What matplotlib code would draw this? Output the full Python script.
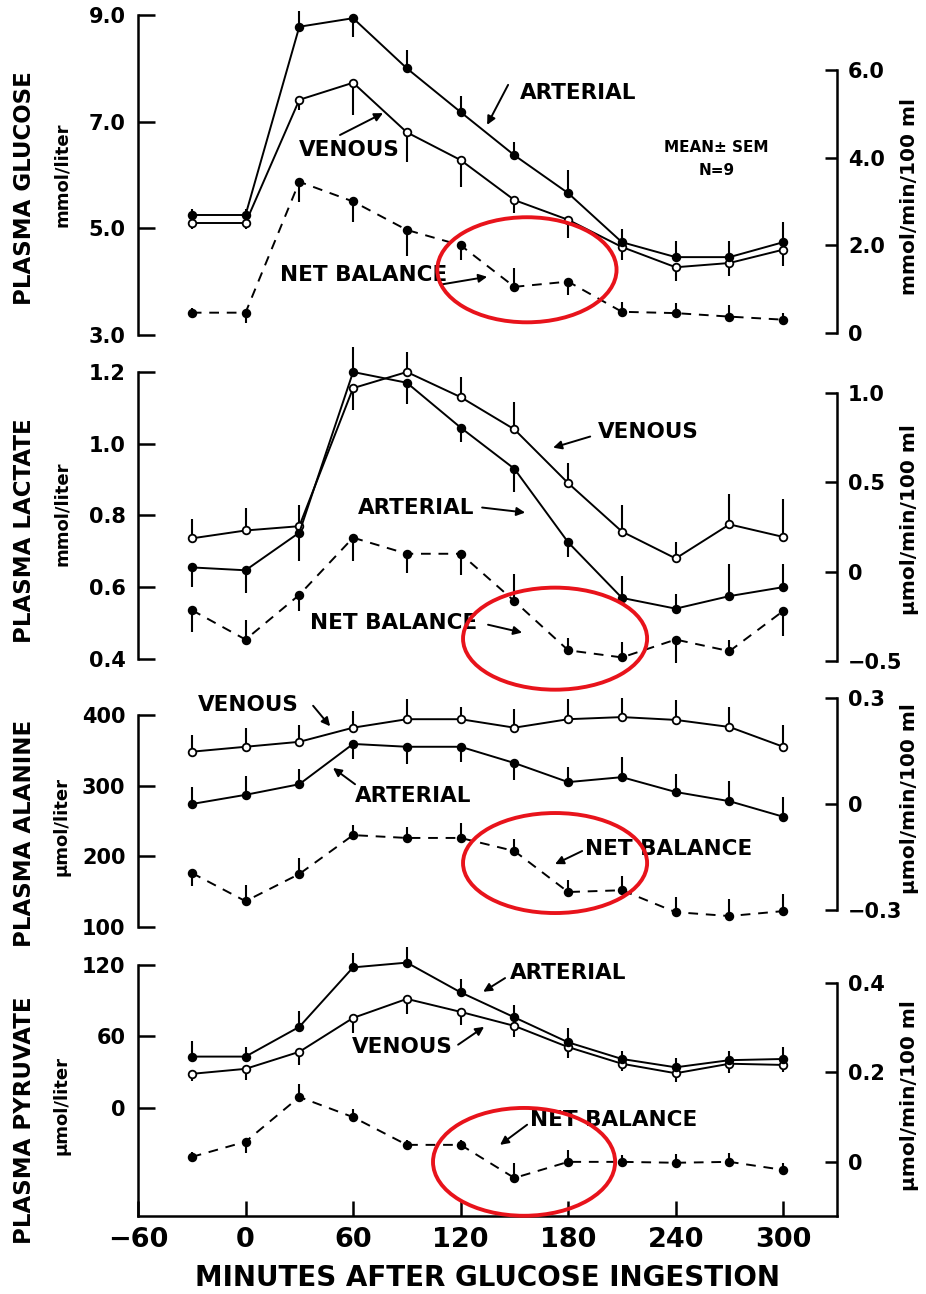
import matplotlib
matplotlib.use("Agg")
import matplotlib.pyplot as plt
from matplotlib.patches import Ellipse

plt.rcParams["font.family"] = ["DejaVu Sans"]
plt.rcParams["font.weight"] = "bold"

minutes = [-30, 0, 30, 60, 90, 120, 150, 180, 210, 240, 270, 300]

# glucose: mmol/liter (arterial, venous), mmol/min/100 ml (net balance)
# sem values are signed: + bar drawn upward, - bar drawn downward
glu_art = [5.25, 5.25, 8.78, 8.94, 8.0, 7.18, 6.37, 5.66, 4.74, 4.46, 4.46, 4.74]
glu_art_sem = [0.12, 0.12, 0.3, -0.35, 0.35, 0.3, 0.25, 0.43, 0.25, 0.3, 0.3, 0.38]
glu_ven = [5.1, 5.1, 7.41, 7.73, 6.8, 6.28, 5.53, 5.16, 4.65, 4.27, 4.35, 4.6]
glu_ven_sem = [-0.12, -0.12, -0.2, -0.6, -0.55, -0.5, -0.25, -0.34, -0.25, -0.25, -0.25, -0.3]
glu_net = [0.46, 0.46, 3.45, 3.0, 2.35, 2.0, 1.05, 1.17, 0.48, 0.45, 0.37, 0.3]
glu_net_sem = [0.1, -0.23, -0.46, -0.46, -0.6, -0.34, 0.42, -0.3, 0.23, 0.23, 0.27, 0.15]

# lactate: mmol/liter, µmol/min/100 ml
lac_art = [0.655, 0.647, 0.752, 1.2, 1.17, 1.045, 0.93, 0.725, 0.57, 0.54, 0.575, 0.60]
lac_art_sem = [-0.055, -0.063, -0.08, 0.07, -0.06, -0.04, -0.065, -0.04, 0.06, 0.04, 0.09, 0.065]
lac_ven = [0.736, 0.758, 0.77, 1.155, 1.2, 1.13, 1.04, 0.89, 0.755, 0.68, 0.775, 0.74]
lac_ven_sem = [0.053, 0.063, 0.06, -0.06, 0.055, 0.055, 0.075, 0.055, 0.075, 0.045, 0.085, 0.105]
lac_net = [-0.215, -0.38, -0.13, 0.19, 0.10, 0.10, -0.165, -0.44, -0.48, -0.38, -0.445, -0.22]
lac_net_sem = [-0.12, 0.11, -0.09, -0.13, -0.11, -0.12, 0.15, 0.07, 0.085, -0.13, 0.065, -0.14]

# alanine: µmol/liter, µmol/min/100 ml
ala_art = [274, 287, 302, 359, 355, 355, 332, 305, 312, 291, 278, 256]
ala_art_sem = [24, 26, 22, -22, -24, -21, -24, 21, 28, 26, 29, 28]
ala_ven = [348, 355, 362, 382, 394, 394, 382, 394, 397, 393, 383, 355]
ala_ven_sem = [24, 26, 24, 23, 29, 17, 26, 29, 27, 28, 28, 31]
ala_net = [-0.195, -0.275, -0.198, -0.088, -0.096, -0.096, -0.133, -0.249, -0.244, -0.306, -0.317, -0.303]
ala_net_sem = [-0.038, 0.047, 0.045, 0.03, 0.03, 0.042, 0.033, 0.035, 0.04, 0.044, 0.047, 0.047]

# pyruvate: µmol/liter, µmol/min/100 ml
pyr_art = [43, 43, 68, 118, 122, 97, 76, 55, 41, 34, 40, 41]
pyr_art_sem = [13, 8, 13, 12, 13, 11, 10, 12, 7, 8, 8, 10]
pyr_ven = [28.5, 32.7, 47, 75.5, 91.5, 80.6, 68.8, 51, 37, 29, 37, 36]
pyr_ven_sem = [-6, -9, -11, -13, -13, -11, -9, -9, -6, -7, -8, -6]
pyr_net = [0.011, 0.045, 0.145, 0.1, 0.038, 0.038, -0.036, 0.0, 0.0, -0.002, 0.0, -0.018]
pyr_net_sem = [0.01, -0.026, 0.028, 0.019, 0.01, 0.01, 0.034, 0.026, 0.015, 0.02, 0.02, 0.015]

x_ticks = [-60, 0, 60, 120, 180, 240, 300]
x_ticklabels = ["−60", "0", "60", "120", "180", "240", "300"]

panels = [
    dict(name="PLASMA GLUCOSE", unit="mmol/liter", runit="mmol/min/100 ml",
         art=(glu_art, glu_art_sem), ven=(glu_ven, glu_ven_sem), net=(glu_net, glu_net_sem),
         box=(15, 335), ylim=(3.0, 9.0), rylim=(-0.05, 7.26),
         lticks=[3.0, 5.0, 7.0, 9.0], llabels=["3.0", "5.0", "7.0", "9.0"],
         rticks=[0, 2.0, 4.0, 6.0], rlabels=["0", "2.0", "4.0", "6.0"],
         lbounds=(3.0, 9.0), rbounds=(0, 6.0), name_y=0.46, unit_y=0.5, runit_y=0.434,
         notes=[("ARTERIAL", "l", (153, 7.54), (146.5, 7.69), (134.8, 6.94)),
                ("VENOUS", "l", (30, 6.47), (52.7, 6.75), (76.7, 7.16)),
                ("NET BALANCE", "r", (19, 1.32), (108.6, 1.1), (134.8, 1.28))],
         ring=(157, 1.44, 100, 2.4)),
    dict(name="PLASMA LACTATE", unit="mmol/liter", runit="µmol/min/100 ml",
         art=(lac_art, lac_art_sem), ven=(lac_ven, lac_ven_sem), net=(lac_net, lac_net_sem),
         box=(372, 661), ylim=(0.394, 1.2), rylim=(-0.5, 1.117),
         lticks=[0.4, 0.6, 0.8, 1.0, 1.2], llabels=["0.4", "0.6", "0.8", "1.0", "1.2"],
         rticks=[-0.5, 0, 0.5, 1.0], rlabels=["−0.5", "0", "0.5", "1.0"],
         lbounds=(0.4, 1.2), rbounds=(-0.5, 1.0), name_y=0.45, unit_y=0.51, runit_y=0.49,
         notes=[("VENOUS", "l", (196.7, 1.033), (192.3, 1.02), (171.6, 0.989)),
                ("ARTERIAL", "l", (62.8, 0.822), (132, 0.822), (156, 0.808)),
                ("NET BALANCE", "r", (36, -0.285), (135.3, -0.297), (154.3, -0.341))],
         ring=(172.7, -0.375, 102.7, 0.571)),
    dict(name="PLASMA ALANINE", unit="µmol/liter", runit="µmol/min/100 ml",
         art=(ala_art, ala_art_sem), ven=(ala_ven, ala_ven_sem), net=(ala_net, ala_net_sem),
         box=(698, 927), ylim=(100, 424), rylim=(-0.348, 0.3),
         lticks=[100, 200, 300, 400], llabels=["100", "200", "300", "400"],
         rticks=[-0.3, 0, 0.3], rlabels=["−0.3", "0", "0.3"],
         lbounds=(100, 400), rbounds=(-0.3, 0.3), name_y=0.41, unit_y=0.44, runit_y=0.56,
         notes=[("VENOUS", "l", (-26.5, 414), (37.7, 413), (47.2, 384)),
                ("ARTERIAL", "l", (61.1, 285), (61.1, 302), (48.8, 325)),
                ("NET BALANCE", "r", (189.5, -0.127), (187.8, -0.133), (172.7, -0.170))],
         ring=(172.7, -0.167, 102.7, 0.283)),
    dict(name="PLASMA PYRUVATE", unit="µmol/liter", runit="µmol/min/100 ml",
         art=(pyr_art, pyr_art_sem), ven=(pyr_ven, pyr_ven_sem), net=(pyr_net, pyr_net_sem),
         box=(965, 1216), ylim=(-91, 120), rylim=(-0.121, 0.44),
         lticks=[0, 60, 120], llabels=["0", "60", "120"],
         rticks=[0, 0.2, 0.4], rlabels=["0", "0.2", "0.4"],
         lbounds=(-91, 120), rbounds=(-0.121, 0.4), name_y=0.38, unit_y=0.44, runit_y=0.48,
         notes=[("ARTERIAL", "l", (147.6, 113), (144.8, 109), (132.6, 97.5)),
                ("VENOUS", "l", (59.4, 51.3), (118.6, 53), (133.1, 68)),
                ("NET BALANCE", "r", (158.8, 0.094), (157.1, 0.083), (142, 0.038))],
         ring=(155.4, 0.0, 101.6, 0.241)),
]

W, H = 926, 1294
fig = plt.figure(figsize=(W / 100, H / 100), dpi=100)
fig.patch.set_facecolor("white")


def draw_series(ax, y, sem, face, dashed):
    tops = [v + e for v, e in zip(y, sem)]
    ax.vlines(minutes, y, tops, color="black", lw=1.5, zorder=2, clip_on=False)
    ax.plot(minutes, y, color="black", lw=1.4,
            ls=(0, (5, 4)) if dashed else "-",
            marker="o", ms=5.5, mfc=face, mec="black", mew=1.3, zorder=3,
            clip_on=False)


for i, p in enumerate(panels):
    top, bottom = p["box"]
    ax = fig.add_axes([138 / W, 1 - bottom / H, 699 / W, (bottom - top) / H])
    axr = ax.twinx()
    last = i == len(panels) - 1

    ax.set_xlim(-60, 330)
    ax.set_ylim(*p["ylim"])
    axr.set_ylim(*p["rylim"])

    draw_series(ax, *p["ven"], face="white", dashed=False)
    draw_series(ax, *p["art"], face="black", dashed=False)
    draw_series(axr, *p["net"], face="black", dashed=True)

    # spines: bracket-style left and right axes
    for s in ["top", "right"]:
        ax.spines[s].set_visible(False)
    ax.spines["bottom"].set_visible(last)
    for s in ["top", "left", "bottom"]:
        axr.spines[s].set_visible(False)
    ax.spines["left"].set_bounds(*p["lbounds"])
    axr.spines["right"].set_bounds(*p["rbounds"])
    for sp in [ax.spines["left"], ax.spines["bottom"], axr.spines["right"]]:
        sp.set_linewidth(1.8)

    ax.set_yticks(p["lticks"])
    ax.set_yticklabels(p["llabels"], fontsize=15, fontweight="bold")
    ax.tick_params(axis="y", direction="in", length=12, width=1.8, pad=9)
    axr.set_yticks(p["rticks"])
    axr.set_yticklabels(p["rlabels"], fontsize=15, fontweight="bold")
    axr.tick_params(axis="y", direction="in", length=9, width=1.8, pad=8)

    if last:
        ax.set_xticks(x_ticks)
        ax.set_xticklabels(x_ticklabels, fontsize=19.5, fontweight="bold")
        ax.tick_params(axis="x", direction="in", length=11, width=1.8, pad=8)
        ax.set_xlabel("MINUTES AFTER GLUCOSE INGESTION", fontsize=20,
                      fontweight="bold", labelpad=8)
    else:
        ax.tick_params(axis="x", bottom=False, labelbottom=False)

    ax.text(-0.162, p["name_y"], p["name"], transform=ax.transAxes, rotation=90,
            ha="center", va="center", fontsize=16.5, fontweight="bold")
    ax.text(-0.109, p["unit_y"], p["unit"], transform=ax.transAxes, rotation=90,
            ha="center", va="center", fontsize=13, fontweight="bold")
    ax.text(1.104, p["runit_y"], p["runit"], transform=ax.transAxes, rotation=90,
            ha="center", va="center", fontsize=14.5, fontweight="bold")

    for label, side, txt, tail, tip in p["notes"]:
        tax = ax if side == "l" else axr
        tax.text(txt[0], txt[1], label, ha="left", va="center",
                 fontsize=15.5, fontweight="bold", zorder=6)
        tax.annotate("", xy=tip, xytext=tail,
                     arrowprops=dict(arrowstyle="-|>,head_length=0.5,head_width=0.25",
                                     color="black", lw=1.4, shrinkA=0, shrinkB=0),
                     zorder=6)

    if i == 0:
        ax.text(262.6, 6.51, "MEAN± SEM", ha="center", va="center",
                fontsize=11, fontweight="bold")
        ax.text(262.6, 6.08, "N=9", ha="center", va="center",
                fontsize=11, fontweight="bold")

    cx, cy, rw, rh = p["ring"]
    axr.add_patch(Ellipse((cx, cy), rw, rh, fill=False, ec="#e8131b",
                          lw=2.8, zorder=10, clip_on=False))

fig.savefig("out.png", dpi=100, facecolor="white")
